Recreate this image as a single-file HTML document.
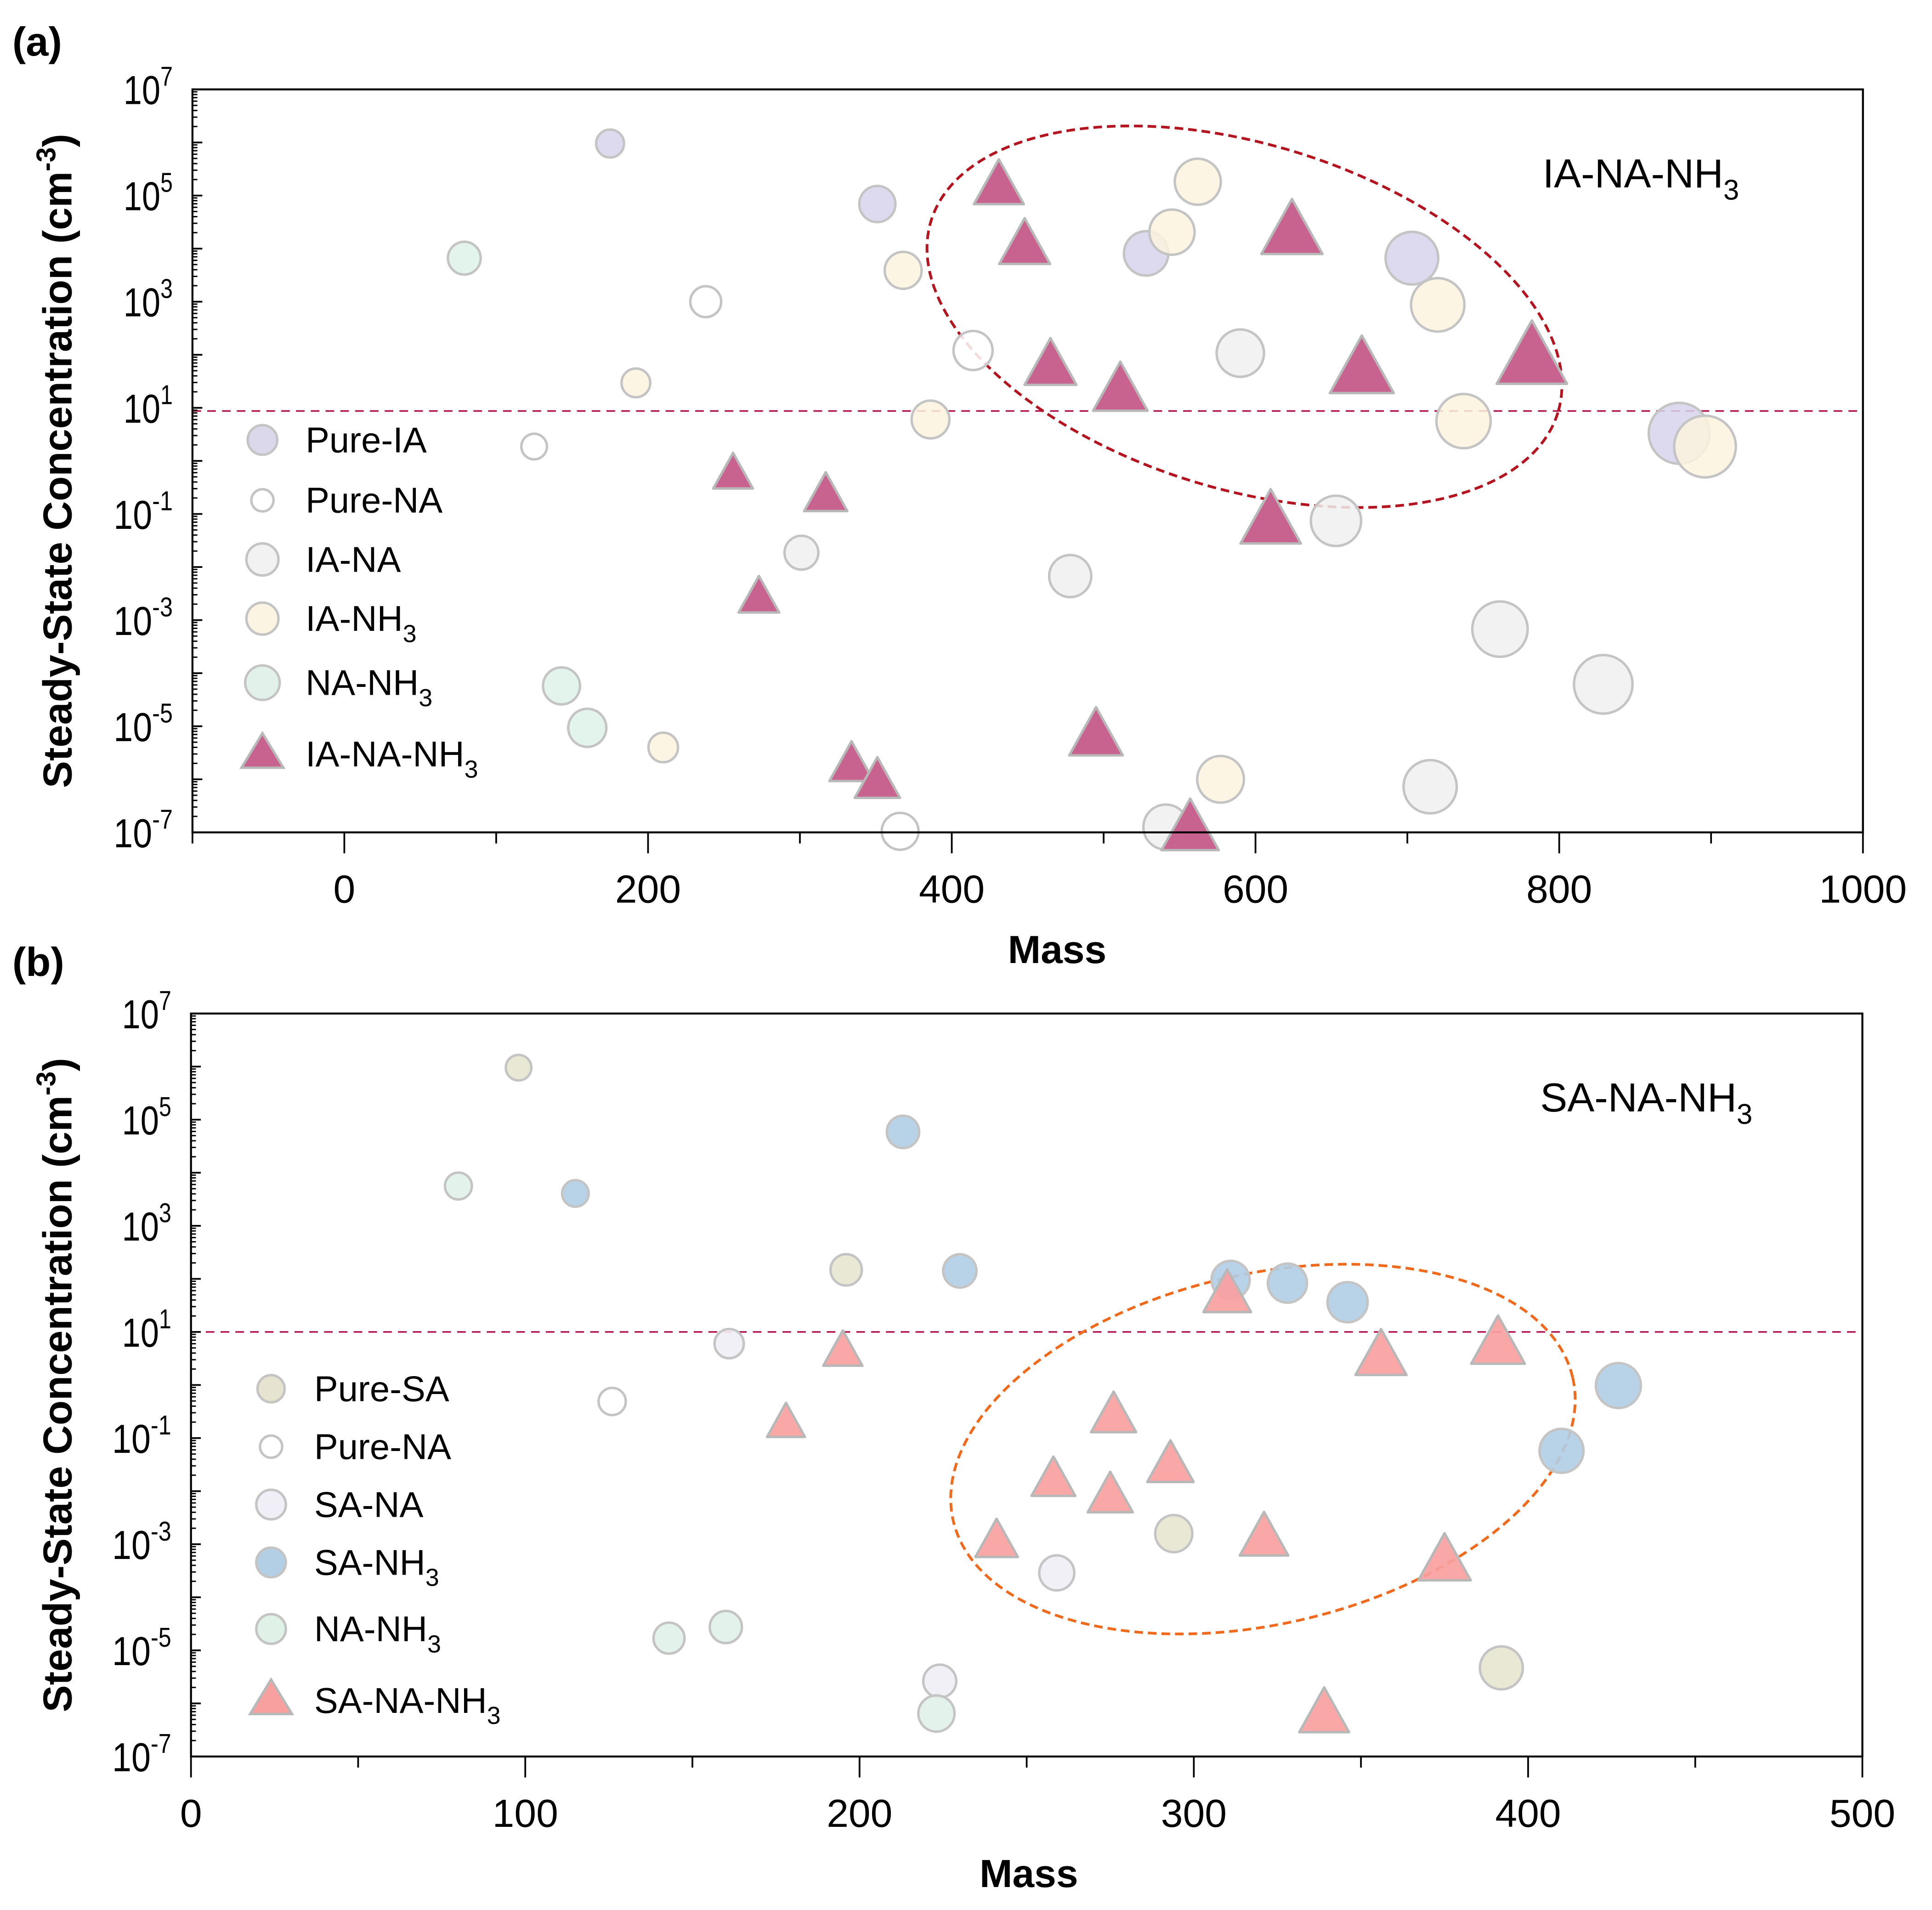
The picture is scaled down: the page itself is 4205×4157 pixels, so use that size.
<!DOCTYPE html>
<html><head><meta charset="utf-8"><style>
html,body{margin:0;padding:0;background:#fff;}
svg{display:block;}
text{font-family:"Liberation Sans",Arial,sans-serif;}
</style></head><body>
<svg id="fig" width="4205" height="4157" viewBox="0 0 1568 1550" xmlns="http://www.w3.org/2000/svg">
<g id="root"></g>
</svg>
<script>
// ---------- Panel (a) data ----------
const aPureIAMass=[175,351,528,703,879];
const aPureIALog=[5.98,4.84,3.91,3.82,0.52];
const aPureNAMass=[125,238,414,366];
const aPureNALog=[0.27,3.0,2.08,-6.98];
const aIANAMass=[301,478,541,590,653,715,761,829];
const aIANALog=[-1.73,-2.17,-6.9,2.03,-1.13,-6.14,-3.17,-4.21];
const aIANH3Mass=[192,210,368,386,545,562,577,720,737,896];
const aIANH3Log=[1.47,-5.4,3.59,0.78,4.31,5.26,-6.0,2.94,0.75,0.27];
const aNANH3Mass=[79,143,160];
const aNANH3Log=[3.82,-4.24,-5.03];
const aTriMass=[256,317,273,431,448,465,511,624,670,782,610,495,334,351,557];
const aTriLog=[-0.24,-0.64,-2.57,5.19,4.07,1.8,1.33,4.33,1.73,1.95,-1.13,-5.17,-5.72,-6.03,-6.93];
const aXTicks=[0,200,400,600,800,1000];
const aYTicks=[7,5,3,1,-1,-3,-5,-7];
const aThreshold=0.94;
// ---------- Panel (b) data ----------
const bPureSAMass=[98,196,294,392];
const bPureSALog=[5.98,2.17,-2.8,-5.33];
const bPureNAMass=[126];
const bPureNALog=[-0.31];
const bSANAMass=[161,259,224];
const bSANALog=[0.78,-3.54,-5.58];
const bNANH3Mass=[80,143,160,223];
const bNANH3Log=[3.75,-4.77,-4.56,-6.19];
const bSANH3Mass=[115,213,230,311,328,346,410,427];
const bSANH3Log=[3.61,4.77,2.15,1.98,1.92,1.56,-1.24,-0.01];
const bTriMass=[178,195,310,356,391,276,258,275,293,241,321,375,339];
const bTriLog=[-0.71,0.64,1.71,0.55,0.78,-0.57,-1.78,-2.08,-1.5,-2.94,-2.87,-3.31,-6.19];
const bXTicks=[0,100,200,300,400,500];
const bYTicks=[7,5,3,1,-1,-3,-5,-7];
const bThreshold=1.0;

const NS="http://www.w3.org/2000/svg";
const root=document.getElementById('root');
function mk(tag,attrs,parent){const e=document.createElementNS(NS,tag);for(const k in attrs)e.setAttribute(k,attrs[k]);(parent||root).appendChild(e);return e;}

function panel(cfg){
  const g=mk('g',{});
  
  
  const X=m=>cfg.x0+(m-cfg.xmin)*cfg.xs;
  const Y=l=>cfg.top+(7-l)*43.07;
  const L=X(cfg.xmin),R=X(cfg.xmax),T=Y(7),B=Y(-7);
  const th=mk('line',{x1:L,x2:R,y1:Y(cfg.th),y2:Y(cfg.th),stroke:'#b0154f','stroke-width':1.3,'stroke-dasharray':'7,5'},g);
  
  
  const el=mk('ellipse',{cx:cfg.ell[0],cy:cfg.ell[1],rx:cfg.ell[2],ry:cfg.ell[3],transform:`rotate(${cfg.ell[4]} ${cfg.ell[0]} ${cfg.ell[1]})`,fill:'none',stroke:cfg.ellColor,'stroke-width':2.2,'stroke-dasharray':'7,4'},g);
  
  
  cfg.series.forEach(s=>{
    const sg=mk('g',{},g);
    
    
    s.mass.forEach((m,i)=>{
      const cx=X(m),cy=Y(s.log[i]);const r=cfg.r0+m*cfg.rk;
      let e;
      if(s.tri){const h=r*1.25;e=mk('polygon',{points:`${cx},${cy-h*1.05} ${cx-h},${cy+h*0.75} ${cx+h},${cy+h*0.75}`,fill:s.fill,stroke:'#b8b8b8','stroke-width':2,'stroke-linejoin':'round'},sg);}
      else e=mk('circle',{cx:cx,cy:cy,r:r*(s.scale||1),fill:s.fill,stroke:'#c4c4c4','stroke-width':2},sg);
      
      
    });
  });
  const fr=mk('rect',{x:L,y:T,width:R-L,height:B-T,fill:'none',stroke:'#000','stroke-width':1.6},g);
  
  
  for(let d=-7;d<=7;d++){
    mk('line',{x1:L,x2:L+8,y1:Y(d),y2:Y(d),stroke:'#000','stroke-width':1.4},g);
    if(d<7)for(let k=2;k<10;k++){const yy=Y(d+Math.log10(k));mk('line',{x1:L,x2:L+4,y1:yy,y2:yy,stroke:'#000','stroke-width':1.1},g);}
  }
  cfg.yt.forEach(d=>{
    const t=mk('text',{x:L-16,y:Y(d)+12,'text-anchor':'end','font-size':33,fill:'#000','textLength':d<0?48:40,'lengthAdjust':'spacingAndGlyphs'},g);
    
    
    const a=mk('tspan',{},t);a.textContent='10';
    const b=mk('tspan',{dy:-15,'font-size':22},t);b.textContent=String(d);
  });
  for(let m=cfg.xmin;m<=cfg.xmax+1e-6;m+=cfg.minor){
    const major=cfg.xt.includes(Math.round(m));
    mk('line',{x1:X(m),x2:X(m),y1:B,y2:B+(major?17:9),stroke:'#000','stroke-width':1.4},g);
  }
  cfg.xt.forEach(m=>{
    const t=mk('text',{x:X(m),y:B+57,'text-anchor':'middle','font-size':32,fill:'#000'},g);
    t.textContent=String(m);
    
    
  });
  const xt=mk('text',{x:cfg.massX,y:B+106,'text-anchor':'middle','font-size':32,'font-weight':'bold'},g);
  xt.textContent='Mass';
  
  
  const yt=mk('text',{x:0,y:0,'text-anchor':'middle','font-size':33,'font-weight':'bold',transform:`translate(58 ${(T+B)/2}) rotate(-90)`},g);
  
  
  mk('tspan',{},yt).textContent='Steady-State Concentration (cm';
  mk('tspan',{dy:-13,'font-size':22},yt).textContent='-3';
  mk('tspan',{dy:13},yt).textContent=')';
  const pl=mk('text',{x:10,y:cfg.letterY,'font-size':33,'font-weight':'bold'},g);
  pl.textContent=cfg.letter;
  
  
  const sl=mk('text',{x:cfg.sys[0],y:cfg.sys[1],'font-size':33},g);
  
  
  mk('tspan',{},sl).textContent=cfg.sysText;
  mk('tspan',{dy:10,'font-size':23},sl).textContent='3';
  const lg=mk('g',{},g);
  
  
  cfg.legend.forEach((it,i)=>{
    const y=cfg.legY[i];const e2=mk('g',{},lg);
    
    
    const mx=cfg.legX;
    if(it.tri)mk('polygon',{points:`${mx},${y-17} ${mx-17},${y+11} ${mx+17},${y+11}`,fill:it.fill,stroke:'#b8b8b8','stroke-width':2},e2);
    else mk('circle',{cx:mx,cy:y,r:it.r,fill:it.fill,stroke:'#c4c4c4','stroke-width':2},e2);
    const t=mk('text',{x:mx+35,y:y+10,'font-size':29},e2);
    mk('tspan',{},t).textContent=it.label;
    if(it.sub){mk('tspan',{dy:9,'font-size':20},t).textContent='3';}
  });
}

panel({name:'panel-a',x0:156.2,xmin:-100,xmax:1000,xs:1.2325,top:72.5,minor:100,xt:aXTicks,yt:aYTicks,th:aThreshold,
  r0:8,rk:0.019,ell:[1010,257,266,140,17],ellColor:'#b3141f',letter:'(a)',letterY:45,sys:[1252,152],sysText:'IA-NA-NH',massX:858,
  series:[
    {name:'pure-ia-series',mass:aPureIAMass,log:aPureIALog,fill:'rgba(215,210,235,0.85)'},
    {name:'pure-na-series',mass:aPureNAMass,log:aPureNALog,fill:'rgba(255,255,255,0.85)'},
    {name:'ia-na-series',mass:aIANAMass,log:aIANALog,fill:'rgba(240,240,240,0.85)'},
    {name:'ia-nh3-series',mass:aIANH3Mass,log:aIANH3Log,fill:'rgba(252,243,222,0.85)'},
    {name:'na-nh3-series',mass:aNANH3Mass,log:aNANH3Log,fill:'rgba(222,242,233,0.85)',scale:1.4},
    {name:'ia-na-nh3-series',mass:aTriMass,log:aTriLog,fill:'#c8628e',tri:true}],
  legX:213,legY:[357,406,454,502,554,612],
  legend:[{label:'Pure-IA',fill:'#dcd8ec',r:12},{label:'Pure-NA',fill:'#fff',r:9},{label:'IA-NA',fill:'#f2f2f2',r:13},
    {label:'IA-NH',sub:1,fill:'#fcf4e2',r:13},{label:'NA-NH',sub:1,fill:'#e2f2ea',r:14},{label:'IA-NA-NH',sub:1,fill:'#c8628e',tri:true}]
});
panel({name:'panel-b',x0:155,xmin:0,xmax:500,xs:2.713,top:822.5,minor:50,xt:bXTicks,yt:bYTicks,th:bThreshold,
  r0:8,rk:0.024,ell:[1025,1176,258,142,-13],ellColor:'#f06a1e',letter:'(b)',letterY:792,sys:[1250,902],sysText:'SA-NA-NH',massX:835,
  series:[
    {name:'pure-sa-series',mass:bPureSAMass,log:bPureSALog,fill:'rgba(230,230,208,0.9)'},
    {name:'pure-na-series',mass:bPureNAMass,log:bPureNALog,fill:'rgba(255,255,255,0.9)'},
    {name:'sa-na-series',mass:bSANAMass,log:bSANALog,fill:'rgba(240,238,246,0.9)'},
    {name:'na-nh3-series',mass:bNANH3Mass,log:bNANH3Log,fill:'rgba(224,241,232,0.9)',scale:1.1},
    {name:'sa-nh3-series',mass:bSANH3Mass,log:bSANH3Log,fill:'rgba(176,206,230,0.9)'},
    {name:'sa-na-nh3-series',mass:bTriMass,log:bTriLog,fill:'rgba(248,160,160,0.92)',tri:true}],
  legX:220,legY:[1127,1174,1221,1268,1322,1380],
  legend:[{label:'Pure-SA',fill:'#e6e4d0',r:11},{label:'Pure-NA',fill:'#fff',r:9},{label:'SA-NA',fill:'#f0eef6',r:12},
    {label:'SA-NH',sub:1,fill:'#b2cfe6',r:12},{label:'NA-NH',sub:1,fill:'#e0f1e8',r:12},{label:'SA-NA-NH',sub:1,fill:'#f8a0a0',tri:true}]
});
</script>
</body></html>
